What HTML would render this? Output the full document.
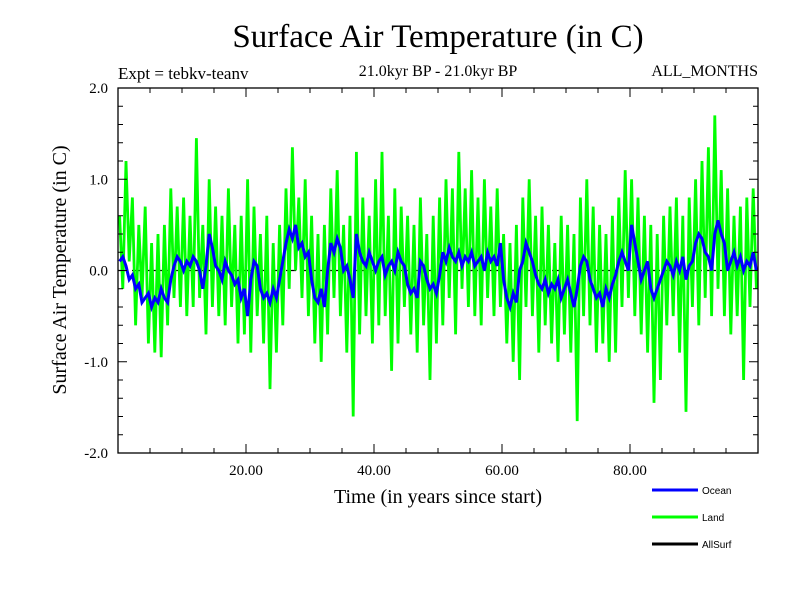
<!DOCTYPE html>
<html><head><meta charset="utf-8"><style>
html,body{margin:0;padding:0;background:#fff;}
svg{display:block;font-family:"Liberation Serif",serif;}
</style></head><body>
<svg id="chart" width="800" height="600" viewBox="0 0 800 600">
<text x="438" y="47" font-size="33" text-anchor="middle">Surface Air Temperature (in C)</text>
<text x="118" y="79" font-size="17">Expt = tebkv-teanv</text>
<text x="438" y="76" font-size="16" text-anchor="middle">21.0kyr BP - 21.0kyr BP</text>
<text x="758" y="76" font-size="16" text-anchor="end">ALL_MONTHS</text>
<text transform="translate(66,270) rotate(-90)" font-size="20" text-anchor="middle">Surface Air Temperature (in C)</text>
<text x="438" y="503" font-size="20" text-anchor="middle">Time (in years since start)</text>
<g id="plot"></g>
<g id="axes"></g>
<g id="legend" font-family="Liberation Sans, sans-serif" font-size="10"></g>
</svg>
<script>
const yTicks=[2.0,1.0,0.0,-1.0,-2.0];
const yTickLabels=["2.0","1.0","0.0","-1.0","-2.0"];
const xTicks=[20,40,60,80];
const xTickLabels=["20.00","40.00","60.00","80.00"];
const seriesNames=["Ocean","Land","AllSurf"];
const ocean=[0.1,0.15,0.05,-0.1,-0.05,-0.2,-0.15,-0.35,-0.3,-0.25,
-0.4,-0.3,-0.35,-0.2,-0.3,-0.35,-0.1,0.05,0.15,0.1,
0.0,0.1,0.05,0.15,0.1,0.0,-0.2,0.05,0.4,0.25,
0.05,0.0,-0.1,0.1,0.0,-0.05,-0.15,-0.1,-0.3,-0.2,
-0.5,-0.1,0.1,0.05,-0.2,-0.3,-0.25,-0.35,-0.2,-0.3,
-0.1,0.1,0.3,0.45,0.35,0.5,0.25,0.3,0.15,0.2,
-0.1,-0.3,-0.35,-0.2,-0.4,0.0,0.3,0.2,0.35,0.25,
0.0,0.05,-0.1,-0.3,0.4,0.2,0.1,0.05,0.2,0.1,
0.0,0.1,0.15,-0.05,0.05,0.1,0.0,0.2,0.1,0.05,
-0.15,-0.25,-0.2,-0.3,0.1,0.05,-0.1,-0.2,-0.15,-0.25,
-0.05,0.2,0.1,0.25,0.15,0.1,0.2,0.05,0.15,0.1,
0.2,0.05,0.1,0.15,0.0,0.2,0.1,0.15,0.05,0.3,
-0.1,-0.3,-0.4,-0.25,-0.35,0.0,0.1,0.3,0.2,0.1,
-0.05,-0.15,-0.2,-0.1,-0.25,-0.15,-0.2,-0.1,-0.3,-0.2,
-0.1,-0.25,-0.4,-0.2,0.05,0.15,0.1,-0.1,-0.2,-0.3,
-0.25,-0.4,-0.2,-0.3,-0.15,-0.05,0.1,0.2,0.1,0.0,
0.5,0.3,0.1,-0.1,0.0,0.1,-0.2,-0.3,-0.2,-0.1,
0.0,0.1,0.05,-0.05,0.1,0.0,0.15,-0.1,0.05,0.1,
0.3,0.4,0.35,0.2,0.15,0.0,0.4,0.55,0.4,0.3,
0.0,0.1,0.2,0.05,0.15,0.0,0.1,0.05,0.2,0.0];
const land=[0.6,-0.2,1.2,0.1,0.8,-0.6,0.5,-0.3,0.7,-0.8,
0.3,-0.9,0.4,-0.95,0.5,-0.6,0.9,-0.3,0.7,-0.4,
0.8,-0.5,0.6,-0.4,1.45,-0.3,0.5,-0.7,1.0,-0.4,
0.7,-0.5,0.6,-0.6,0.9,-0.4,0.5,-0.8,0.6,-0.7,
1.0,-0.9,0.7,-0.5,0.4,-0.8,0.6,-1.3,0.3,-0.9,
0.5,-0.6,0.9,-0.2,1.35,0.0,0.8,-0.3,1.0,-0.5,
0.6,-0.8,0.4,-1.0,0.5,-0.7,0.9,-0.3,1.1,-0.5,
0.5,-0.9,0.6,-1.6,1.3,-0.7,0.8,-0.5,0.6,-0.8,
1.0,-0.6,1.3,-0.5,0.6,-1.1,0.9,-0.8,0.7,-0.4,
0.6,-0.7,0.5,-0.9,0.8,-0.6,0.4,-1.2,0.6,-0.8,
0.8,-0.6,1.0,-0.3,0.9,-0.7,1.3,-0.2,0.9,-0.4,
1.1,-0.5,0.8,-0.6,1.0,-0.3,0.7,-0.5,0.9,-0.4,
0.4,-0.8,0.3,-1.0,0.5,-1.2,0.8,-0.4,1.0,-0.5,
0.6,-0.9,0.7,-0.6,0.5,-0.8,0.3,-1.0,0.6,-0.7,
0.5,-0.9,0.4,-1.65,0.8,-0.5,1.0,-0.6,0.7,-0.9,
0.5,-0.8,0.4,-1.0,0.6,-0.9,0.8,-0.4,1.1,-0.3,
1.0,-0.5,0.8,-0.7,0.6,-0.9,0.5,-1.45,0.4,-1.2,
0.6,-0.6,0.7,-0.5,0.8,-0.9,0.6,-1.55,0.8,-0.4,
1.0,-0.6,1.2,-0.3,1.35,-0.5,1.7,-0.2,1.1,-0.5,
0.9,-0.7,0.6,-0.5,0.7,-1.2,0.8,-0.4,0.9,-0.2];
const NS="http://www.w3.org/2000/svg";
const L=118,R=758,T=88,B=453;
const xS=t=>L+(R-L)*t/100;
const yS=v=>T+(B-T)*(2-v)/4;
function mk(tag,attrs,parent){const e=document.createElementNS(NS,tag);for(const k in attrs)e.setAttribute(k,attrs[k]);parent.appendChild(e);return e;}
const plot=document.getElementById('plot'),axes=document.getElementById('axes'),leg=document.getElementById('legend');
const zl=mk('line',{x1:L,x2:R,y1:yS(0),y2:yS(0),stroke:'#000','stroke-width':1.2,'stroke-dasharray':'10,4'},plot);


function pts(arr){return arr.map((v,i)=>xS(i*0.5+0.25).toFixed(1)+','+yS(v).toFixed(1)).join(' ');}
const gl=mk('polyline',{points:pts(land),fill:'none',stroke:'#00ff00','stroke-width':2.8},plot);


const bl=mk('polyline',{points:pts(ocean),fill:'none',stroke:'#0000ff','stroke-width':3},plot);


const frame=mk('rect',{x:L,y:T,width:R-L,height:B-T,fill:'none',stroke:'#000','stroke-width':1.3},axes);


for(let v=-2;v<=2.001;v+=0.2){const y=yS(v);const major=Math.abs(v-Math.round(v))<0.01;const len=major?9:5;
mk('line',{x1:L,x2:L+len,y1:y,y2:y,stroke:'#000'},axes);mk('line',{x1:R,x2:R-len,y1:y,y2:y,stroke:'#000'},axes);}
for(let t=5;t<100;t+=5){const x=xS(t);const len=t%20===0?9:5;
mk('line',{x1:x,x2:x,y1:B,y2:B-len,stroke:'#000'},axes);mk('line',{x1:x,x2:x,y1:T,y2:T+len,stroke:'#000'},axes);}
yTicks.forEach((v,i)=>{const t=mk('text',{x:108,y:yS(v)+5,'font-size':15,'text-anchor':'end'},axes);t.textContent=yTickLabels[i];

});
xTicks.forEach((v,i)=>{const t=mk('text',{x:xS(v),y:475,'font-size':15,'text-anchor':'middle'},axes);t.textContent=xTickLabels[i];

});
const legColors=['#0000ff','#00ff00','#000'];
seriesNames.forEach((n,i)=>{const y=490+i*27;const g=mk('g',{},leg);


mk('line',{x1:652,x2:698,y1:y,y2:y,stroke:legColors[i],'stroke-width':3},g);
const t=mk('text',{x:702,y:y+4},g);t.textContent=n;});
</script>
</body></html>
